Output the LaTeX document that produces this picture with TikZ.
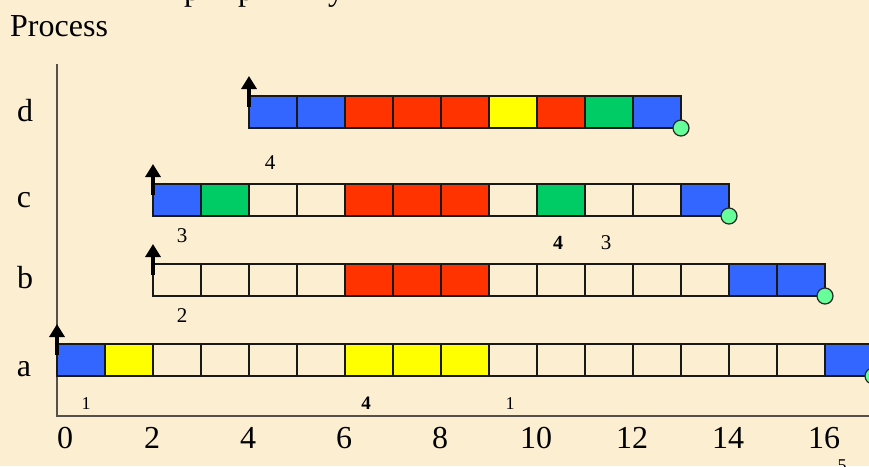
\documentclass[tikz,border=0pt]{standalone}
\usepackage{fontspec}
\setmainfont{Liberation Serif}
\usetikzlibrary{arrows.meta}
\definecolor{bgc}{RGB}{251,238,209}
\definecolor{cB}{RGB}{51,102,255}
\definecolor{cR}{RGB}{255,51,0}
\definecolor{cY}{RGB}{255,255,0}
\definecolor{cG}{RGB}{0,204,102}
\definecolor{cN}{RGB}{251,238,209}
\definecolor{endc}{RGB}{102,255,153}
\definecolor{axisc}{RGB}{85,80,75}
\tikzset{
  cell/.style={draw=black!90, line width=1.4pt, minimum width=48pt, minimum height=32pt, inner sep=0pt, outer sep=0pt},
  endpt/.style={circle, draw=black!85, line width=1.2pt, fill=endc, minimum size=16pt, inner sep=0pt},
  startarrow/.style={line width=3.4pt, -{Triangle[width=15pt,length=13pt]}},
  axisline/.style={draw=axisc, line width=1.6pt},
  big/.style={font=\fontsize{32}{36}\selectfont, inner sep=0pt, anchor=base},
  small/.style={font=\fontsize{21}{24}\selectfont, inner sep=0pt, anchor=base},
  tiny/.style={font=\fontsize{18}{21}\selectfont, inner sep=0pt, anchor=base},
}
\begin{document}
\begin{tikzpicture}[x=1pt,y=-1pt]
\useasboundingbox[fill=bgc] (0,0) rectangle (869,466);
% cut-off heading fragments
\node[big] (h1) at (192,0) {p};
\node[big] (h2) at (246,0) {p};
\node[big] (h3) at (336,0) {y};
\node[big, anchor=base west] (proc) at (10,36) {Process};
% axes
\coordinate (otop) at (57,64);
\coordinate (orig) at (57,416);
\coordinate (xend) at (869,416);
\draw[axisline] (otop) -- (orig) -- (xend);
% row labels
\node[big] (ld) at (25,121) {d};
\node[big] (lc) at (24,207) {c};
\node[big] (lb) at (25,288) {b};
\node[big] (la) at (24,376) {a};
% tick labels
\node[big] (t0) at (65,448) {0};
\foreach \k in {2,4,...,16} {
  \node[big] (t\k) at (56+48*\k,448) {\k};
}
% row a
\foreach \c [count=\i from 0] in {cB,cY,cN,cN,cN,cN,cY,cY,cY,cN,cN,cN,cN,cN,cN,cN,cB} {
  \node[cell, fill=\c] (a-\i) at (81+48*\i,360) {};
}
% row b
\foreach \c [count=\i from 2] in {cN,cN,cN,cN,cR,cR,cR,cN,cN,cN,cN,cN,cB,cB} {
  \node[cell, fill=\c] (b-\i) at (81+48*\i,280) {};
}
% row c
\foreach \c [count=\i from 2] in {cB,cG,cN,cN,cR,cR,cR,cN,cG,cN,cN,cB} {
  \node[cell, fill=\c] (c-\i) at (81+48*\i,200) {};
}
% row d
\foreach \c [count=\i from 4] in {cB,cB,cR,cR,cR,cY,cR,cG,cB} {
  \node[cell, fill=\c] (d-\i) at (81+48*\i,112) {};
}
% start arrows
\draw[startarrow] ([yshift=-11pt]a-0.north west) -- ++(0,-31);
\draw[startarrow] ([yshift=-11pt]b-2.north west) -- ++(0,-31);
\draw[startarrow] ([yshift=-11pt]c-2.north west) -- ++(0,-31);
\draw[startarrow] ([yshift=-11pt]d-4.north west) -- ++(0,-31);
% end markers
\node[endpt] (ea) at (a-16.south east) {};
\node[endpt] (eb) at (b-15.south east) {};
\node[endpt] (ec) at (c-13.south east) {};
\node[endpt] (ed) at (d-12.south east) {};
% small labels
\node[small] (n4d) at (270,169) {4};
\node[small] (n3c) at (182,242) {3};
\node[small, font=\fontsize{20}{24}\selectfont\bfseries] (n4c) at (558,249) {4};
\node[small] (n3c2) at (606,249) {3};
\node[small] (n2b) at (182,322) {2};
\node[tiny] (n1a) at (86,409) {1};
\node[tiny, font=\fontsize{19}{22}\selectfont\bfseries] (n4a) at (366,409) {4};
\node[tiny] (n1a2) at (510,409) {1};
\node[tiny] (n5) at (842,471) {5};
\end{tikzpicture}
\end{document}
